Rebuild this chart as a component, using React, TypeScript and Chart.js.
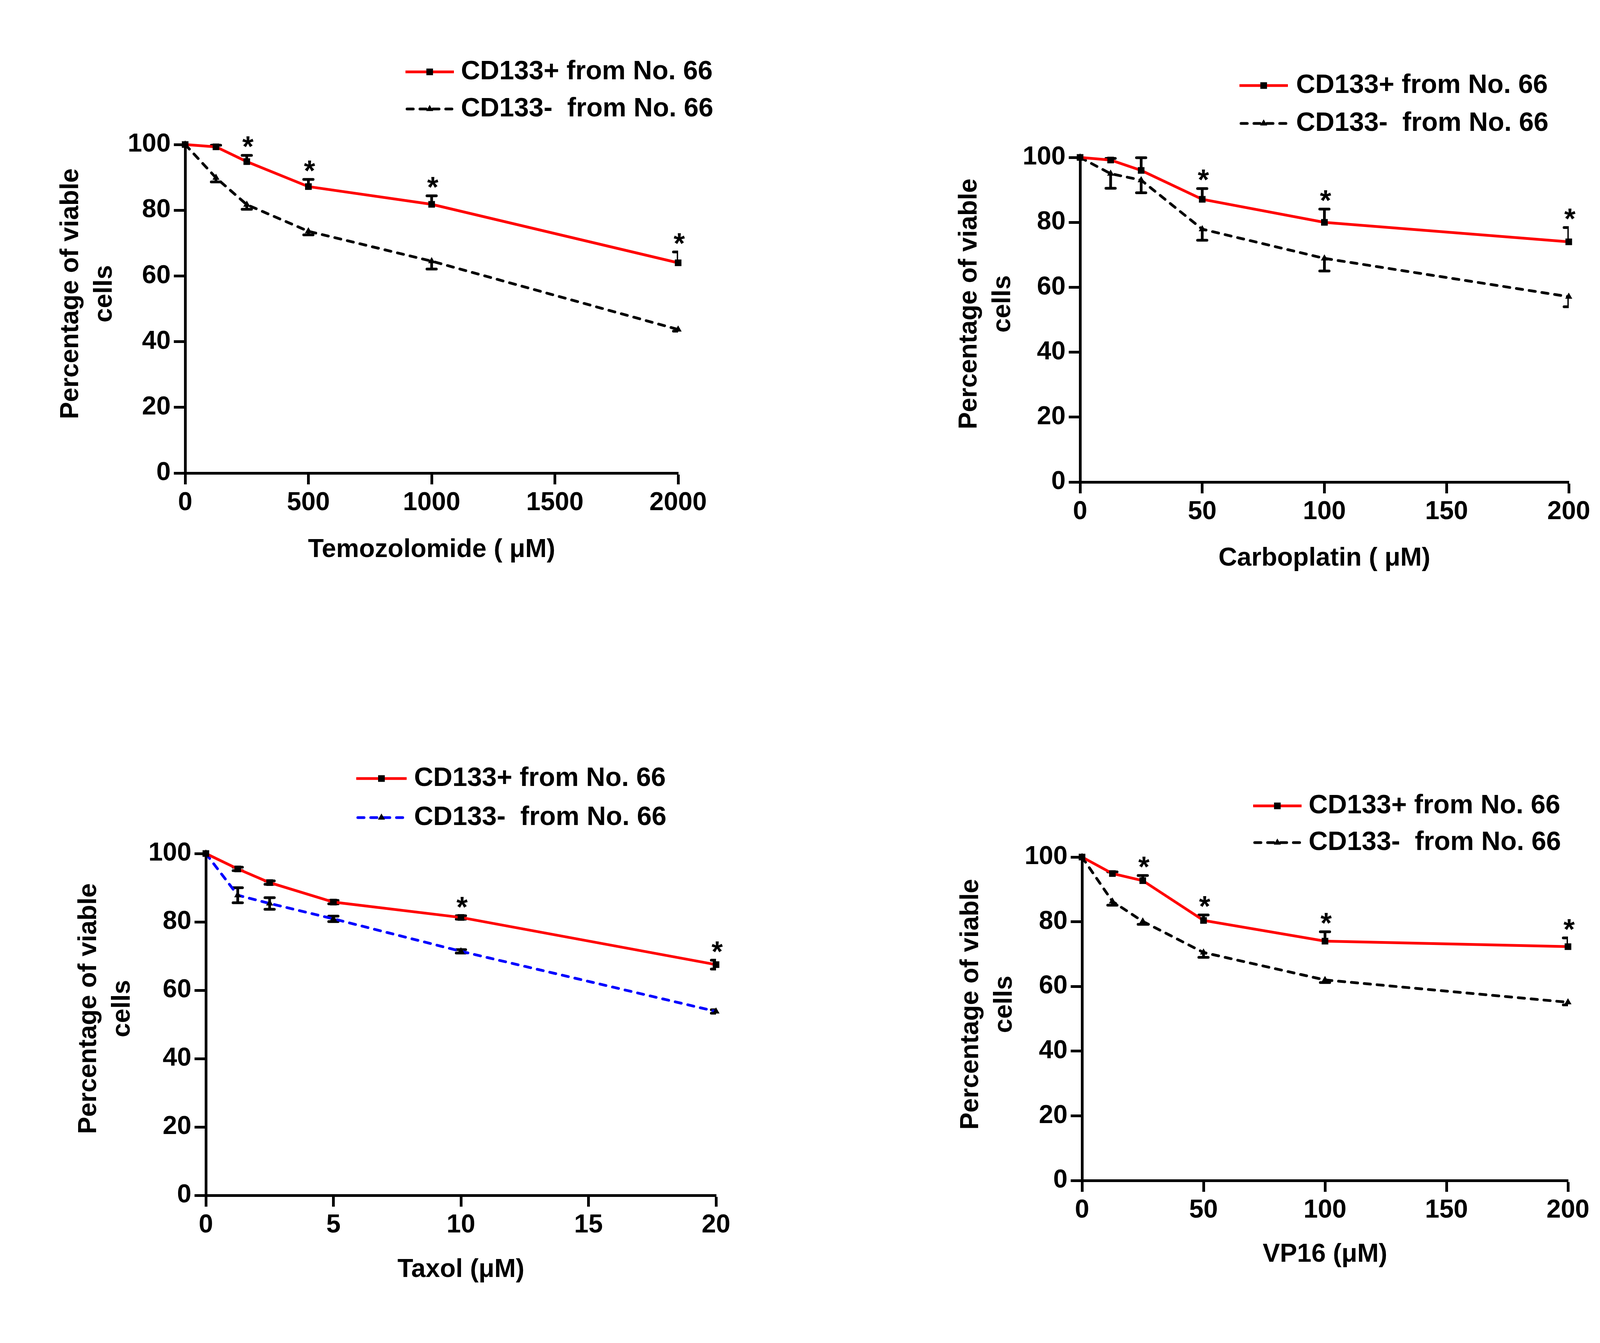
import React, { useEffect, useRef } from "react";
import { Chart, registerables } from "chart.js";

Chart.register(...registerables);

const FONT = "'Liberation Sans', Arial, Helvetica, sans-serif";

// ---------- shared labels ----------
const legendPos = "CD133+ from No. 66";
const legendNeg = "CD133-  from No. 66";
const yTitleLines = ["Percentage of viable", "cells"];
const yTicks = [0, 20, 40, 60, 80, 100];

// ---------- Temozolomide ----------
const tmzDose = [0, 125, 250, 500, 1000, 2000];
const tmzPos = [100, 99.3, 94.8, 87.2, 81.8, 64.0];
const tmzPosErr = [0, 0.5, 1.9, 2.2, 2.6, 3.3];
const tmzNeg = [100, 89.9, 81.7, 73.6, 64.5, 43.7];
const tmzNegErr = [0, 1.3, 1.4, 1.1, 2.4, 0.5];
const tmzStars = [250, 500, 1000, 2000];
const tmzTicks = [0, 500, 1000, 1500, 2000];
const tmzTitle = "Temozolomide ( \u03bcM)";

// ---------- Carboplatin ----------
const carDose = [0, 12.5, 25, 50, 100, 200];
const carPos = [100, 99.2, 96.0, 87.1, 80.0, 74.0];
const carPosErr = [0, 0.5, 3.9, 3.3, 4.1, 4.4];
const carNeg = [100, 95.0, 93.0, 77.9, 68.9, 57.1];
const carNegErr = [0, 4.5, 3.9, 3.4, 3.9, 3.1];
const carStars = [50, 100, 200];
const carTicks = [0, 50, 100, 150, 200];
const carTitle = "Carboplatin ( \u03bcM)";

// ---------- Taxol ----------
const taxDose = [0, 1.25, 2.5, 5, 10, 20];
const taxPos = [100, 95.5, 91.5, 85.8, 81.3, 67.5];
const taxPosErr = [0, 0.5, 0.5, 0.5, 0.5, 1.3];
const taxNeg = [100, 87.8, 85.4, 80.9, 71.4, 53.8];
const taxNegErr = [0, 2.2, 1.7, 0.8, 0.5, 0.5];
const taxStars = [10, 20];
const taxTicks = [0, 5, 10, 15, 20];
const taxTitle = "Taxol (\u03bcM)";

// ---------- VP16 ----------
const vpDose = [0, 12.5, 25, 50, 100, 200];
const vpPos = [100, 94.9, 92.7, 80.4, 74.0, 72.3];
const vpPosErr = [0, 0.5, 1.6, 1.7, 2.9, 2.7];
const vpNeg = [100, 86.3, 80.1, 70.5, 62.0, 55.1];
const vpNegErr = [0, 1.2, 0.9, 1.5, 0.8, 0.8];
const vpStars = [25, 50, 100, 200];
const vpTicks = [0, 50, 100, 150, 200];
const vpTitle = "VP16 (\u03bcM)";

// ---------- layout / style (pixels) ----------
const PW = 2156;
const PH = 1719;

type Dir = "up" | "down" | "both";

type PanelCfg = {
  left: number;
  top: number;
  area: { left: number; right: number; top: number; bottom: number };
  xTitle: string;
  xTitleY: number;
  yTitleX: number;
  yTitleY: number;
  legend: { x1: number; x2: number; tx: number; y1: number; y2: number };
  dose: number[];
  pos: number[];
  posErr: number[];
  neg: number[];
  negErr: number[];
  stars: number[];
  xTicks: number[];
  negColor: string;
  posDir: Dir;
  negDir: Dir;
};

const panels: PanelCfg[] = [
  {
    left: 0, top: 0,
    area: { left: 474, right: 1736, top: 370, bottom: 1211 },
    xTitle: tmzTitle, xTitleY: 1408,
    yTitleX: 182, yTitleY: 752,
    legend: { x1: 1038, x2: 1162, tx: 1180, y1: 184, y2: 279 },
    dose: tmzDose, pos: tmzPos, posErr: tmzPosErr, neg: tmzNeg, negErr: tmzNegErr,
    stars: tmzStars, xTicks: tmzTicks, negColor: "#000000", posDir: "up", negDir: "down",
  },
  {
    left: 2156, top: 0,
    area: { left: 609, right: 1860, top: 403, bottom: 1234 },
    xTitle: carTitle, xTitleY: 1430,
    yTitleX: 326, yTitleY: 778,
    legend: { x1: 1017, x2: 1141, tx: 1162, y1: 219, y2: 316 },
    dose: carDose, pos: carPos, posErr: carPosErr, neg: carNeg, negErr: carNegErr,
    stars: carStars, xTicks: carTicks, negColor: "#000000", posDir: "up", negDir: "down",
  },
  {
    left: 0, top: 1719,
    area: { left: 527, right: 1833, top: 466, bottom: 1341 },
    xTitle: taxTitle, xTitleY: 1532,
    yTitleX: 228, yTitleY: 863,
    legend: { x1: 912, x2: 1041, tx: 1060, y1: 274, y2: 374 },
    dose: taxDose, pos: taxPos, posErr: taxPosErr, neg: taxNeg, negErr: taxNegErr,
    stars: taxStars, xTicks: taxTicks, negColor: "#0000ff", posDir: "both", negDir: "both",
  },
  {
    left: 2156, top: 1719,
    area: { left: 614, right: 1858, top: 475, bottom: 1303 },
    xTitle: vpTitle, xTitleY: 1493,
    yTitleX: 330, yTitleY: 852,
    legend: { x1: 1052, x2: 1176, tx: 1194, y1: 344, y2: 438 },
    dose: vpDose, pos: vpPos, posErr: vpPosErr, neg: vpNeg, negErr: vpNegErr,
    stars: vpStars, xTicks: vpTicks, negColor: "#000000", posDir: "up", negDir: "down",
  },
];

const TEXT_SIZE = 66;
const LEGEND_SIZE = 68;
const STAR_SIZE = 74;
const AXIS_W = 7;
const TICK_LEN = 29;
const LINE_W = 7;
const DASH = [16, 17];
const ERR_W = 7;
const CAP_HALF = 12;
const Y_TITLE_GAP = 86;

function drawTriangle(ctx: CanvasRenderingContext2D, x: number, y: number, r: number) {
  ctx.beginPath();
  for (let k = 0; k < 3; k++) {
    const a = (k * 2 * Math.PI) / 3;
    const px = x + Math.sin(a) * r;
    const py = y - Math.cos(a) * r;
    if (k === 0) ctx.moveTo(px, py);
    else ctx.lineTo(px, py);
  }
  ctx.closePath();
  ctx.fill();
}

function Panel({ cfg, idx }: { cfg: PanelCfg; idx: number }) {
  const ref = useRef<HTMLCanvasElement>(null);

  useEffect(() => {
    if (!ref.current) return;
    const a = cfg.area;
    const padLeft = 20;
    const xBoxBottom = cfg.xTitleY + (TEXT_SIZE * 1.2) / 2;

    const decor = {
      id: "decor" + idx,
      beforeDatasetsDraw(chart: any) {
        const ctx: CanvasRenderingContext2D = chart.ctx;
        const xs = chart.scales.x;
        const ys = chart.scales.y;
        const ca = chart.chartArea;
        ctx.save();
        ctx.beginPath();
        ctx.rect(ca.left - 60, 0, ca.right - ca.left + 60, chart.height);
        ctx.clip();
        ctx.strokeStyle = "#000";
        ctx.lineWidth = ERR_W;
        ctx.lineCap = "round";
        ctx.setLineDash([]);
        const series: [number[], number[], Dir][] = [
          [cfg.pos, cfg.posErr, cfg.posDir],
          [cfg.neg, cfg.negErr, cfg.negDir],
        ];
        series.forEach(([vals, errs, dir]) => {
          vals.forEach((v, i) => {
            const e = errs[i];
            if (!e) return;
            const px = xs.getPixelForValue(cfg.dose[i]);
            const c = ys.getPixelForValue(v);
            const ends: number[] = [];
            if (dir !== "down") ends.push(ys.getPixelForValue(v + e));
            if (dir !== "up") ends.push(ys.getPixelForValue(v - e));
            ctx.beginPath();
            ends.forEach((yy) => {
              ctx.moveTo(px, c);
              ctx.lineTo(px, yy);
              ctx.moveTo(px - CAP_HALF, yy);
              ctx.lineTo(px + CAP_HALF, yy);
            });
            ctx.stroke();
          });
        });
        ctx.restore();
      },
      afterDraw(chart: any) {
        const ctx: CanvasRenderingContext2D = chart.ctx;
        const xs = chart.scales.x;
        const ys = chart.scales.y;
        ctx.save();
        // significance stars
        ctx.fillStyle = "#000";
        ctx.font = `bold ${STAR_SIZE}px ${FONT}`;
        ctx.textAlign = "center";
        ctx.textBaseline = "alphabetic";
        cfg.stars.forEach((d) => {
          const i = cfg.dose.indexOf(d);
          const px = xs.getPixelForValue(d) + 3;
          const top = ys.getPixelForValue(cfg.pos[i] + cfg.posErr[i]);
          const cy = top - 38;
          ctx.fillText("*", px, cy + 0.55 * STAR_SIZE);
        });

        // legend
        const L = cfg.legend;
        const mid = (L.x1 + L.x2) / 2;
        ctx.lineWidth = LINE_W;
        ctx.strokeStyle = "#ff0000";
        ctx.setLineDash([]);
        ctx.lineCap = "butt";
        ctx.beginPath();
        ctx.moveTo(L.x1, L.y1);
        ctx.lineTo(L.x2, L.y1);
        ctx.stroke();
        ctx.fillStyle = "#000";
        ctx.fillRect(mid - 8.5, L.y1 - 8.5, 17, 17);
        ctx.strokeStyle = cfg.negColor;
        ctx.lineCap = "round";
        ctx.setLineDash(DASH);
        ctx.beginPath();
        ctx.moveTo(L.x1 + 4, L.y2);
        ctx.lineTo(L.x2, L.y2);
        ctx.stroke();
        ctx.setLineDash([]);
        drawTriangle(ctx, mid, L.y2, 10.5);
        ctx.font = `bold ${LEGEND_SIZE}px ${FONT}`;
        ctx.textAlign = "left";
        ctx.textBaseline = "middle";
        ctx.fillText(legendPos, L.tx, L.y1);
        ctx.fillText(legendNeg, L.tx, L.y2);

        // y-axis title (two lines, rotated)
        ctx.font = `bold ${TEXT_SIZE}px ${FONT}`;
        ctx.textAlign = "center";
        yTitleLines.forEach((line, k) => {
          ctx.save();
          ctx.translate(cfg.yTitleX + k * Y_TITLE_GAP, cfg.yTitleY);
          ctx.rotate(-Math.PI / 2);
          ctx.fillText(line, 0, 0);
          ctx.restore();
        });
        ctx.restore();
      },
    };

    const chart = new Chart(ref.current, {
      type: "line",
      data: {
        datasets: [
          {
            label: legendPos,
            data: cfg.dose.map((d, i) => ({ x: d, y: cfg.pos[i] })),
            borderColor: "#ff0000",
            borderWidth: LINE_W,
            pointStyle: "rect",
            pointRadius: 12,
            pointBackgroundColor: "#000",
            pointBorderColor: "#000",
            pointBorderWidth: 0,
            tension: 0,
            fill: false,
            clip: false,
            order: 1,
          },
          {
            label: legendNeg,
            data: cfg.dose.map((d, i) => ({ x: d, y: cfg.neg[i] })),
            borderColor: cfg.negColor,
            borderWidth: LINE_W,
            borderDash: DASH,
            borderCapStyle: "round",
            pointStyle: "triangle",
            pointRadius: 10.5,
            pointBackgroundColor: "#000",
            pointBorderColor: "#000",
            pointBorderWidth: 0,
            tension: 0,
            fill: false,
            clip: false,
            order: 2,
          },
        ],
      },
      options: {
        responsive: false,
        animation: false,
        events: [],
        layout: {
          padding: {
            left: padLeft,
            top: a.top,
            right: PW - a.right,
            bottom: PH - xBoxBottom,
          },
        },
        plugins: {
          legend: { display: false },
          tooltip: { enabled: false },
          title: { display: false },
        },
        scales: {
          x: {
            type: "linear",
            position: "bottom",
            min: cfg.xTicks[0],
            max: cfg.xTicks[cfg.xTicks.length - 1],
            afterBuildTicks: (s: any) => {
              s.ticks = cfg.xTicks.map((v) => ({ value: v }));
            },
            afterFit: (s: any) => {
              s.height = xBoxBottom - a.bottom;
            },
            grid: {
              display: true,
              drawOnChartArea: false,
              drawTicks: true,
              tickLength: TICK_LEN,
              tickWidth: AXIS_W,
              tickColor: "#000",
              color: "#000",
            },
            border: { display: true, color: "#000", width: AXIS_W },
            ticks: {
              color: "#000",
              padding: 8,
              maxRotation: 0,
              autoSkip: false,
              font: { family: FONT, size: TEXT_SIZE, weight: "bold" },
              callback: (v: any) => String(v),
            },
            title: {
              display: true,
              text: cfg.xTitle,
              color: "#000",
              padding: 0,
              font: { family: FONT, size: TEXT_SIZE, weight: "bold", lineHeight: 1.2 },
            },
          },
          y: {
            type: "linear",
            position: "left",
            min: 0,
            max: 100,
            afterBuildTicks: (s: any) => {
              s.ticks = yTicks.map((v) => ({ value: v }));
            },
            afterFit: (s: any) => {
              s.width = a.left - padLeft;
            },
            grid: {
              display: true,
              drawOnChartArea: false,
              drawTicks: true,
              tickLength: TICK_LEN,
              tickWidth: AXIS_W,
              tickColor: "#000",
              color: "#000",
            },
            border: { display: true, color: "#000", width: AXIS_W },
            ticks: {
              color: "#000",
              padding: 8,
              autoSkip: false,
              font: { family: FONT, size: TEXT_SIZE, weight: "bold" },
              callback: (v: any) => String(v),
            },
          },
        },
      },
      plugins: [decor],
    } as any);

    return () => chart.destroy();
  }, [cfg, idx]);

  return (
    <canvas
      ref={ref}
      width={PW}
      height={PH}
      style={{ position: "absolute", left: cfg.left, top: cfg.top, width: PW, height: PH }}
    />
  );
}

export default function App() {
  return (
    <div
      style={{
        position: "absolute",
        left: 0,
        top: 0,
        width: 4312,
        height: 3438,
        background: "#ffffff",
        overflow: "hidden",
      }}
    >
      {panels.map((p, i) => (
        <Panel key={i} cfg={p} idx={i} />
      ))}
    </div>
  );
}
